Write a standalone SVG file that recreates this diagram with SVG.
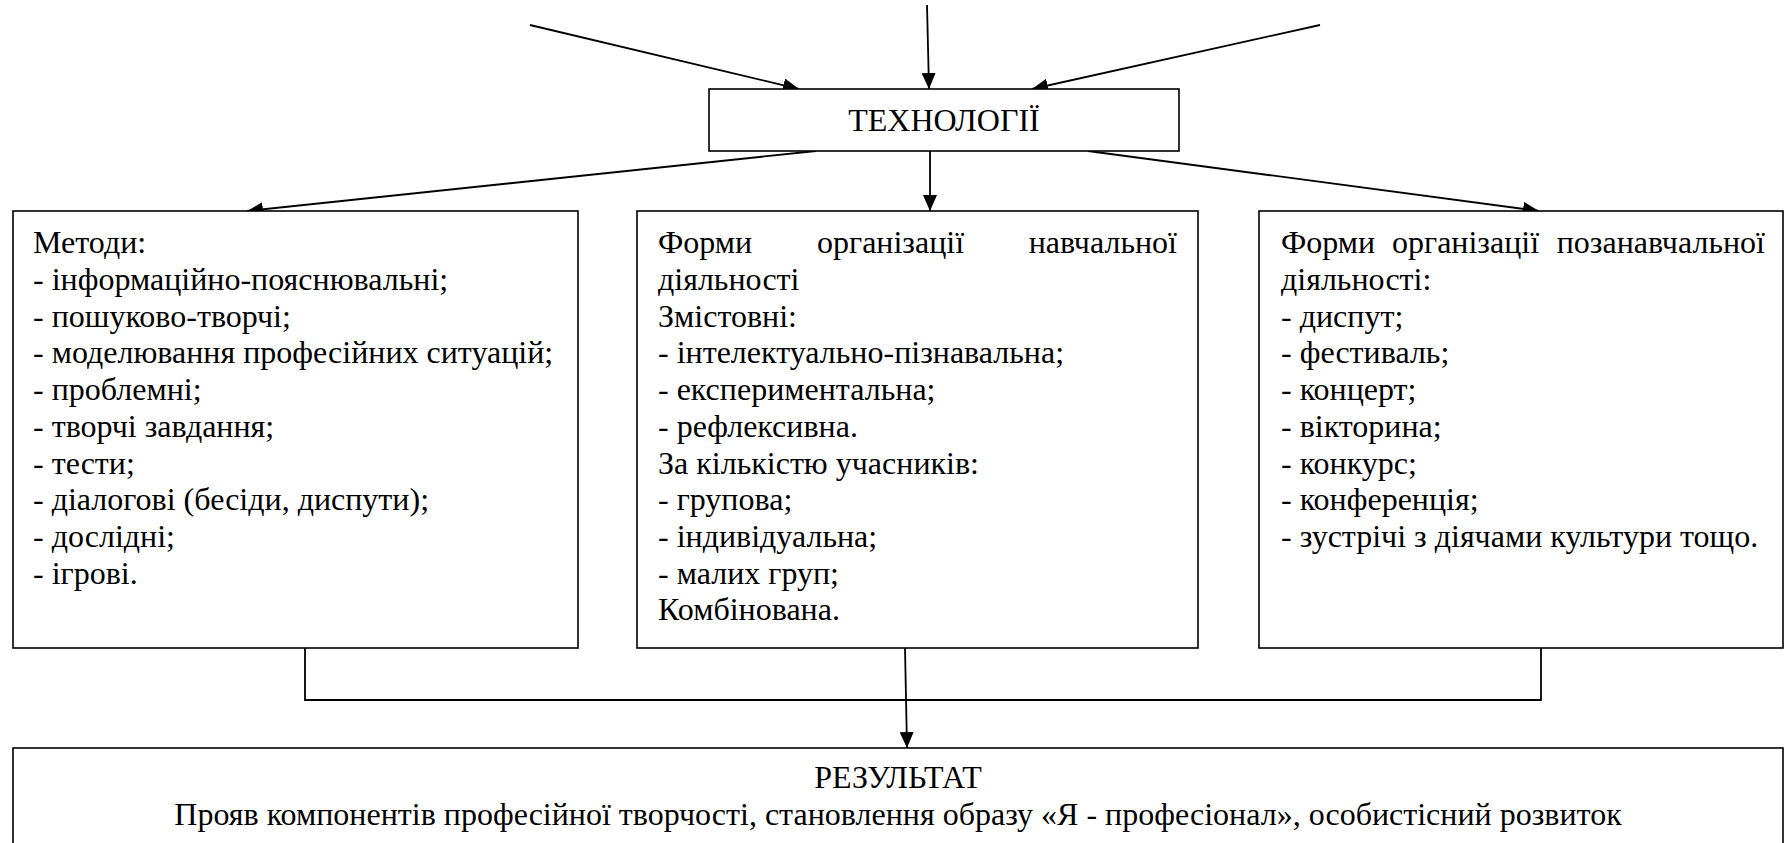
<svg xmlns="http://www.w3.org/2000/svg" width="1785" height="843" viewBox="0 0 1785 843">
<style>
.box{fill:#fff;stroke:#000;stroke-width:1.6}
.t{font-family:'Liberation Serif',Tinos,'Times New Roman','DejaVu Serif',serif;font-size:32px;fill:#000}
.c{text-anchor:middle}
.e{text-anchor:end}
.ln{stroke:#000;stroke-width:1.8;fill:none}
</style>
<defs>
<marker id="ah" markerUnits="userSpaceOnUse" markerWidth="17" markerHeight="15" refX="16" refY="7" orient="auto">
<path d="M0,0 L16,7 L0,14 z" fill="#000"/>
</marker>
</defs>
<rect width="1785" height="843" fill="#fff"/>
<g id="connectors">
<line class="ln" x1="530" y1="25" x2="799" y2="89" marker-end="url(#ah)"/>
<line class="ln" x1="927" y1="5" x2="929" y2="89" marker-end="url(#ah)"/>
<line class="ln" x1="1320" y1="25" x2="1032" y2="89" marker-end="url(#ah)"/>
<line class="ln" x1="816" y1="151" x2="247" y2="211" marker-end="url(#ah)"/>
<line class="ln" x1="930" y1="151" x2="930" y2="211" marker-end="url(#ah)"/>
<line class="ln" x1="1088" y1="151" x2="1539" y2="211" marker-end="url(#ah)"/>
<polyline class="ln" points="305,648 305,700 1541,700 1541,648"/>
<line class="ln" x1="905" y1="648" x2="907" y2="748" marker-end="url(#ah)"/>
</g>
<g id="tech">
<rect class="box" x="709" y="89" width="470" height="62"/>
<text class="t c" x="944" y="131">ТЕХНОЛОГІЇ</text>
</g>
<g id="methods">
<rect class="box" x="13" y="211" width="565" height="437"/>
<text class="t">
<tspan x="33" y="253">Методи:</tspan>
<tspan x="33" y="290">- інформаційно-пояснювальні;</tspan>
<tspan x="33" y="326.5">- пошуково-творчі;</tspan>
<tspan x="33" y="363">- моделювання професійних ситуацій;</tspan>
<tspan x="33" y="400">- проблемні;</tspan>
<tspan x="33" y="437">- творчі завдання;</tspan>
<tspan x="33" y="473.5">- тести;</tspan>
<tspan x="33" y="510">- діалогові (бесіди, диспути);</tspan>
<tspan x="33" y="547">- дослідні;</tspan>
<tspan x="33" y="584">- ігрові.</tspan>
</text>
</g>
<g id="forms-study">
<rect class="box" x="637" y="211" width="561" height="437"/>
<text class="t">
<tspan x="658" y="253">Форми</tspan>
<tspan x="817" y="253">організації</tspan>
</text>
<text class="t e" x="1177" y="253">навчальної</text>
<text class="t">
<tspan x="658" y="290">діяльності</tspan>
<tspan x="658" y="326.5">Змістовні:</tspan>
<tspan x="658" y="363">- інтелектуально-пізнавальна;</tspan>
<tspan x="658" y="400">- експериментальна;</tspan>
<tspan x="658" y="437">- рефлексивна.</tspan>
<tspan x="658" y="473.5">За кількістю учасників:</tspan>
<tspan x="658" y="510">- групова;</tspan>
<tspan x="658" y="547">- індивідуальна;</tspan>
<tspan x="658" y="584">- малих груп;</tspan>
<tspan x="658" y="620">Комбінована.</tspan>
</text>
</g>
<g id="forms-extra">
<rect class="box" x="1259" y="211" width="524" height="437"/>
<text class="t">
<tspan x="1281" y="253">Форми</tspan>
<tspan x="1392" y="253">організації</tspan>
</text>
<text class="t e" x="1765" y="253">позанавчальної</text>
<text class="t">
<tspan x="1281" y="290">діяльності:</tspan>
<tspan x="1281" y="326.5">- диспут;</tspan>
<tspan x="1281" y="363">- фестиваль;</tspan>
<tspan x="1281" y="400">- концерт;</tspan>
<tspan x="1281" y="437">- вікторина;</tspan>
<tspan x="1281" y="473.5">- конкурс;</tspan>
<tspan x="1281" y="510">- конференція;</tspan>
<tspan x="1281" y="547">- зустрічі з діячами культури тощо.</tspan>
</text>
</g>
<g id="result">
<rect class="box" x="13" y="748" width="1770" height="110"/>
<text class="t c" x="898" y="788">РЕЗУЛЬТАТ</text>
<text class="t c" x="898" y="825">Прояв компонентів професійної творчості, становлення образу «Я - професіонал», особистісний розвиток</text>
</g>
</svg>
